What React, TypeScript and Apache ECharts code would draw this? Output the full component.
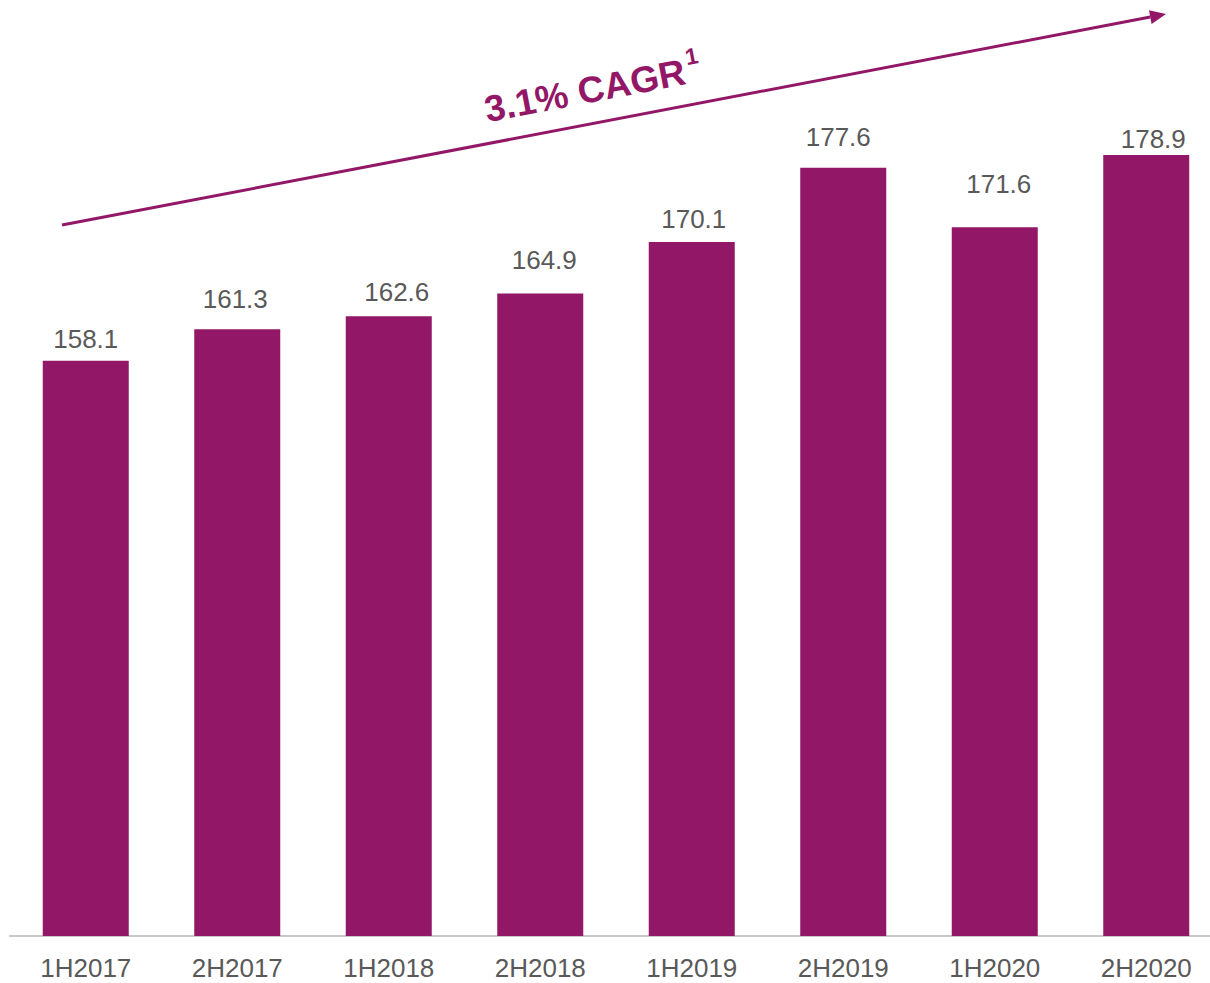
import React, { useEffect, useRef } from "react";
import * as echarts from "echarts";

const categories = ["1H2017", "2H2017", "1H2018", "2H2018", "1H2019", "2H2019", "1H2020", "2H2020"];
const values = [158.1, 161.3, 162.6, 164.9, 170.1, 177.6, 171.6, 178.9];
// manual label placement as in the reference (px gap above bar, px horizontal shift)
const labelGaps = [9, 17, 11, 20, 10, 18, 30, 3];
const labelShifts = [0, -2, 8, 4, 2, -5, 4, 7];
const cagrMain = "3.1% CAGR";
const cagrSup = "1";

const PURPLE = "#921766";
const GRAY = "#595959";
const FONT = "'Liberation Sans', Arial, sans-serif";

export default function App() {
  const ref = useRef<HTMLDivElement>(null);
  useEffect(() => {
    if (!ref.current) return;
    const chart = echarts.init(ref.current, undefined, { renderer: "svg" });
    // arrow geometry
    const x0 = 62, y0 = 225, tx = 1166, ty = 14;
    const dx = tx - x0, dy = ty - y0;
    const len = Math.sqrt(dx * dx + dy * dy);
    const ux = dx / len, uy = dy / len;
    const px = -uy, py = ux;
    const hl = 16, hw = 7;
    const bx = tx - hl * ux, by = ty - hl * uy;
    const angle = Math.atan2(-dy, dx);
    chart.setOption({
      animation: false,
      grid: { left: 10, right: 0, top: 144, bottom: 47, containLabel: false, outerBoundsMode: "none" },
      xAxis: {
        type: "category",
        data: categories,
        axisLine: { lineStyle: { color: "#c8c8c8", width: 2 } },
        axisTick: { show: false },
        axisLabel: { color: GRAY, fontSize: 26, lineHeight: 22, fontFamily: FONT, margin: 21 },
      },
      yAxis: { type: "value", min: 100, max: 180, show: false, splitLine: { show: false } },
      series: [
        {
          type: "bar",
          data: values.map((v, i) => ({
            value: v,
            label: { distance: labelGaps[i], offset: [labelShifts[i], 0] },
          })),
          barWidth: 86,
          itemStyle: { color: PURPLE },
          label: {
            show: true,
            position: "top",
            color: GRAY,
            fontSize: 26,
            lineHeight: 26,
            fontFamily: FONT,
            formatter: (p: any) => Number(p.value).toFixed(1),
          },
        },
      ],
      graphic: [
        {
          type: "line",
          shape: { x1: x0, y1: y0, x2: bx, y2: by },
          style: { stroke: PURPLE, lineWidth: 3 },
        },
        {
          type: "polygon",
          shape: { points: [[tx, ty], [bx + hw * px, by + hw * py], [bx - hw * px, by - hw * py]] },
          style: { fill: PURPLE },
        },
        {
          type: "text",
          x: 592,
          y: 86,
          rotation: angle,
          style: {
            text: `{m|${cagrMain}}{s|${cagrSup}}`,
            align: "center",
            verticalAlign: "middle",
            rich: {
              m: { fontSize: 37, fontWeight: "bold", fill: PURPLE, fontFamily: FONT, lineHeight: 44, verticalAlign: "bottom" },
              s: { fontSize: 23, fontWeight: "bold", fill: PURPLE, fontFamily: FONT, lineHeight: 44, verticalAlign: "top", padding: [0, 0, 12, 3] },
            },
          },
        },
      ],
    });
    return () => chart.dispose();
  }, []);
  return (
    <div style={{ position: "fixed", left: 0, top: 0, width: 1210, height: 983, overflow: "hidden", background: "#fff" }}>
      <div ref={ref} style={{ position: "absolute", left: 0, top: 0, width: 1222, height: 983 }} />
    </div>
  );
}
